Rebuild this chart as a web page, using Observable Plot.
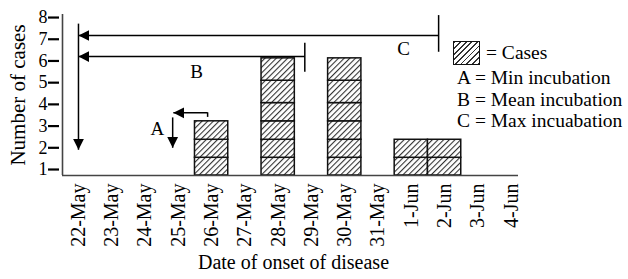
<!DOCTYPE html>
<html><head><meta charset="utf-8">
<script src="https://cdn.jsdelivr.net/npm/d3@7"></script>
<script src="https://cdn.jsdelivr.net/npm/@observablehq/plot@0.6"></script>
<style>
body{margin:0;background:#fff}
#wrap{position:relative;width:628px;height:279px;font-family:"Liberation Serif","Times New Roman",serif;color:#000}
.lg{position:absolute;font-size:19.5px;line-height:21.5px;white-space:nowrap}
.sw{position:absolute;left:453px;top:41px;width:25px;height:22px;border:1.5px solid #111;background:repeating-linear-gradient(135deg,#333 0 1.2px,#fff 1.2px 4px)}
</style>
</head><body><div id="wrap"></div>
<script>
const dates = ["22-May","23-May","24-May","25-May","26-May","27-May","28-May","29-May","30-May","31-May","1-Jun","2-Jun","3-Jun","4-Jun"];
const cases = [0,0,0,0,3,0,6,0,6,0,2,2,0,0];
const caseEdges = [0.724,1.54,2.37,3.22,4.06,5.09,6.12];
const yTicks = [1,2,3,4,5,6,7,8];
const xDomain = [-0.48, 13.22];
const yDomain = [0.724, 8.14];
const arrows = [
  {x1:10.82, y1:7.17, x2:0, y2:7.17},
  {x1:6.80, y1:6.20, x2:0, y2:6.20},
  {x1:0, y1:7.72, x2:0, y2:1.91},
  {x1:3.88, y1:3.61, x2:2.85, y2:3.61},
  {x1:2.83, y1:3.40, x2:2.83, y2:2.00}
];
const endTicks = [
  {x:10.82, y1:8.09, y2:6.40},
  {x:6.80, y1:6.82, y2:5.48},
  {x:3.88, y1:3.61, y2:3.40}
];
const arrowLabels = [
  {text:"C", x:9.77, y:6.57},
  {text:"B", x:3.55, y:5.51},
  {text:"A", x:2.37, y:2.89}
];
const legendSwatchLabel = "= Cases";
const legendLines = ["A = Min incubation","B = Mean incubation","C = Max incuabation"];
const xTitle = "Date of onset of disease";
const yTitle = "Number of cases";

const boxes = dates.flatMap((d,i) => d3.range(cases[i]).map(k => ({x1:i-0.5, x2:i+0.5, y1:caseEdges[k], y2:caseEdges[k+1]})));

const plot = Plot.plot({
  width: 628, height: 279,
  marginLeft: 62, marginRight: 110, marginTop: 14, marginBottom: 104,
  style: {fontFamily:'"Liberation Serif","Times New Roman",serif', fontSize:"18px", color:"#000", background:"transparent"},
  x: {type:"linear", domain: xDomain},
  y: {type:"linear", domain: yDomain},
  marks: [
    Plot.rect(boxes, {x1:"x1", x2:"x2", y1:"y1", y2:"y2", fill:"url(#hatch)", stroke:"#111", strokeWidth:1.5}),
    Plot.ruleX([xDomain[0]], {stroke:"#444", strokeWidth:1.6}),
    Plot.ruleY([yDomain[0]], {stroke:"#444", strokeWidth:1.6}),
    Plot.axisX({ticks: d3.range(dates.length), tickFormat: i => dates[i], tickRotate:-90, tickSize:0, tickPadding:8, fontSize:20, label:null}),
    Plot.axisY({ticks: yTicks, tickSize:11, tickPadding:1, strokeWidth:2.2, stroke:"#000", dx:-3, fontSize:18, label:null}),
    Plot.link(arrows, {x1:"x1", y1:"y1", x2:"x2", y2:"y2", stroke:"#000", strokeWidth:1.5, className:"arr"}),
    Plot.ruleX(endTicks, {x:"x", y1:"y1", y2:"y2", stroke:"#000", strokeWidth:1.5}),
    Plot.text(arrowLabels, {x:"x", y:"y", text:"text", fontSize:19}),
    Plot.text([xTitle], {frameAnchor:"bottom", dx:3, dy:93, fontSize:20}),
    Plot.text([yTitle], {frameAnchor:"left", textAnchor:"middle", dx:-44, rotate:-90, fontSize:21})
  ]
});

const svg = d3.select(plot);
const defs = svg.insert("defs", ":first-child");
const pat = defs.append("pattern").attr("id","hatch").attr("patternUnits","userSpaceOnUse")
  .attr("width",4).attr("height",4).attr("patternTransform","rotate(45)");
pat.append("rect").attr("width",4).attr("height",4).attr("fill","#fff");
pat.append("line").attr("x1",0).attr("y1",0).attr("x2",0).attr("y2",4).attr("stroke","#333").attr("stroke-width",2.2);
defs.append("marker").attr("id","head").attr("viewBox","0 -6 12 12").attr("refX",11).attr("refY",0)
  .attr("markerWidth",12).attr("markerHeight",12).attr("markerUnits","userSpaceOnUse").attr("orient","auto")
  .append("path").attr("d","M0,-5.5L11,0L0,5.5Z").attr("fill","#000");
svg.selectAll(".arr path").attr("marker-end","url(#head)");

const wrap = document.getElementById("wrap");
wrap.appendChild(plot);
const sw = document.createElement("div"); sw.className = "sw"; wrap.appendChild(sw);
const l0 = document.createElement("div"); l0.className = "lg"; l0.style.left = "486px"; l0.style.top = "42px"; l0.textContent = legendSwatchLabel; wrap.appendChild(l0);
legendLines.forEach((t,i) => {
  const d = document.createElement("div"); d.className = "lg"; d.style.left = "457px"; d.style.top = (67 + i*21.5) + "px"; d.textContent = t; wrap.appendChild(d);
});
</script>
</body></html>
